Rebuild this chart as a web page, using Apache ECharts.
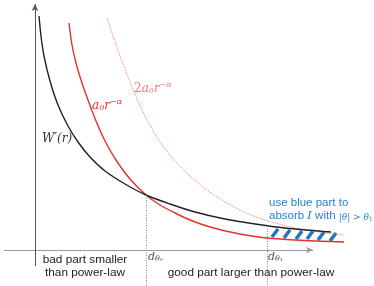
<!DOCTYPE html>
<html><head><meta charset="utf-8">
<script src="https://cdn.jsdelivr.net/npm/echarts@6/dist/echarts.min.js"></script>
<style>html,body{margin:0;padding:0;background:#fff}#c{width:374px;height:286px}</style>
</head><body><div id="c"></div>
<script>
// Curves (r, value) in plot units
const wPrimeR = [4,6,9,15,23,33,43,55,70,90,111,135,160,190,220,250,296];
const wPrimeV = [234,214,194,169,145,124,108,93,79,66,55,46,38,31,26,22,18];
const powR = [34,37,41,46,53,61,70,81,95,111,125,140,155,175,200,232,270,309];
const powV = [227,205,187,170,150,129,109,90,71,55,45,37,30,23,17,12,9.5,8];
const pow2R = [72,80,88,97,108,120,128,140,155,172,192,216,240,270,309];
const pow2V = [232,208,186,163,138,116,104,89,74,60,47,35,27,20,15];
// thresholds
const dTheta0 = 111, dTheta0V = 55;
const dTheta1 = 232, dTheta1V = 24;
// blue hatch strokes
const hatchX0 = [237,249,261,272,283,295];
const hatchY0 = [13,12,11,11,10,9];
const hatchX1 = [243,255,267,278,289,301];
const hatchY1 = [21,20,19,19,18,17];

const zip = (a,b)=>a.map((v,i)=>[v,b[i]]);
const chart = echarts.init(document.getElementById('c'), null, {renderer:'canvas'});
const SANS = 'Liberation Sans, Arial, sans-serif';
const SERIF = 'DejaVu Serif, Liberation Serif, serif';
const BLUE = '#2384cc';

chart.setOption({
  animation:false,
  grid:{left:0,right:0,top:0,bottom:0},
  xAxis:{type:'value',min:-35,max:339,show:false},
  yAxis:{type:'value',min:-36,max:250,show:false},
  series:[
    {type:'line',data:[],silent:true,
     markLine:{silent:true,symbol:['none','arrow'],symbolSize:[5,7],label:{show:false},
       data:[
        [{coord:[-31,0],lineStyle:{color:'#999',width:1,type:'solid'}},{coord:[278,0]}],
        [{coord:[0,-16],lineStyle:{color:'#555',width:1,type:'solid'}},{coord:[0,246]}]
       ],
       itemStyle:{color:'#333'}
     }},
    {type:'line',data:[],silent:true,
     markLine:{silent:true,symbol:['none','none'],label:{show:false},
       lineStyle:{color:'#888',width:1,type:[1,1.5]},
       data:[
        [{coord:[dTheta0,dTheta0V]},{coord:[dTheta0,-36]}],
        [{coord:[dTheta1,dTheta1V]},{coord:[dTheta1,-36]}]
       ]}},
    {type:'line',data:zip(pow2R,pow2V),smooth:0.3,showSymbol:false,
     lineStyle:{color:'#f07a78',width:1,type:[1.2,1.2]}},
    {type:'line',data:zip(powR,powV),smooth:0.3,showSymbol:false,
     lineStyle:{color:'#e8302a',width:1.4}},
    {type:'line',data:zip(wPrimeR,wPrimeV),smooth:0.3,showSymbol:false,
     lineStyle:{color:'#222',width:1.4}},
    {type:'custom',data:hatchX0.map((v,i)=>[v,hatchY0[i],hatchX1[i],hatchY1[i]]),
     renderItem:(params,api)=>{
       const p0=api.coord([api.value(0),api.value(1)]);
       const p1=api.coord([api.value(2),api.value(3)]);
       return {type:'line',shape:{x1:p0[0],y1:p0[1],x2:p1[0],y2:p1[1]},
         style:{stroke:'#1f78c4',lineWidth:3.6,lineCap:'butt'}};
     }}
  ],
  graphic:[
    {type:'text',left:42,top:133,style:{text:'W′(r)',font:'italic 12px '+SERIF,fill:'#333'}},
    {type:'text',left:92,top:98,style:{
      text:'{m|a}{s|0}{m|r}{p|−α}',fill:'#e8302a',
      rich:{m:{font:'italic 12px '+SERIF,fill:'#e8302a',verticalAlign:'bottom',lineHeight:14},
            s:{font:'italic 8px '+SERIF,fill:'#e8302a',verticalAlign:'bottom',lineHeight:11},
            p:{font:'italic 8px '+SERIF,fill:'#e8302a',verticalAlign:'top',lineHeight:14}}}},
    {type:'text',left:134,top:81,style:{
      text:'{m|2}{i|a}{s|0}{i|r}{p|−α}',fill:'#f07a78',
      rich:{m:{font:'12px '+SERIF,fill:'#f07a78',verticalAlign:'bottom',lineHeight:14},
            i:{font:'italic 12px '+SERIF,fill:'#f07a78',verticalAlign:'bottom',lineHeight:14},
            s:{font:'italic 8px '+SERIF,fill:'#f07a78',verticalAlign:'bottom',lineHeight:11},
            p:{font:'italic 8px '+SERIF,fill:'#f07a78',verticalAlign:'top',lineHeight:14}}}},
    {type:'text',left:148,top:252,style:{
      text:'{m|d}{s|θ₀}',rich:{m:{font:'italic 11px '+SERIF,fill:'#555',verticalAlign:'bottom',lineHeight:13},
        s:{font:'italic 8px '+SERIF,fill:'#555',verticalAlign:'bottom',lineHeight:10}}}},
    {type:'text',left:268,top:252,style:{
      text:'{m|d}{s|θ₁}',rich:{m:{font:'italic 11px '+SERIF,fill:'#555',verticalAlign:'bottom',lineHeight:13},
        s:{font:'italic 8px '+SERIF,fill:'#555',verticalAlign:'bottom',lineHeight:10}}}},
    {type:'text',x:85,y:260,style:{text:'bad part smaller',font:'11.8px '+SANS,fill:'#222',align:'center',verticalAlign:'middle'}},
    {type:'text',x:85,y:273,style:{text:'than power-law',font:'11.8px '+SANS,fill:'#222',align:'center',verticalAlign:'middle'}},
    {type:'text',x:251,y:273,style:{text:'good part larger than power-law',font:'11.8px '+SANS,fill:'#222',align:'center',verticalAlign:'middle'}},
    {type:'text',left:269,top:197,style:{text:'use blue part to',font:'11.5px '+SANS,fill:BLUE}},
    {type:'text',left:269,top:210,style:{
      text:'{t|absorb }{i|I}{t| with }{m|\u007cθ\u007c > θ}{s|1}',
      rich:{t:{font:'11.5px '+SANS,fill:BLUE,verticalAlign:'bottom',lineHeight:14},
            i:{font:'italic 11.5px '+SERIF,fill:BLUE,verticalAlign:'bottom',lineHeight:14},
            m:{font:'italic 9px '+SERIF,fill:BLUE,verticalAlign:'bottom',lineHeight:13},
            s:{font:'6px '+SERIF,fill:BLUE,verticalAlign:'bottom',lineHeight:10}}}}
  ]
});
</script></body></html>
